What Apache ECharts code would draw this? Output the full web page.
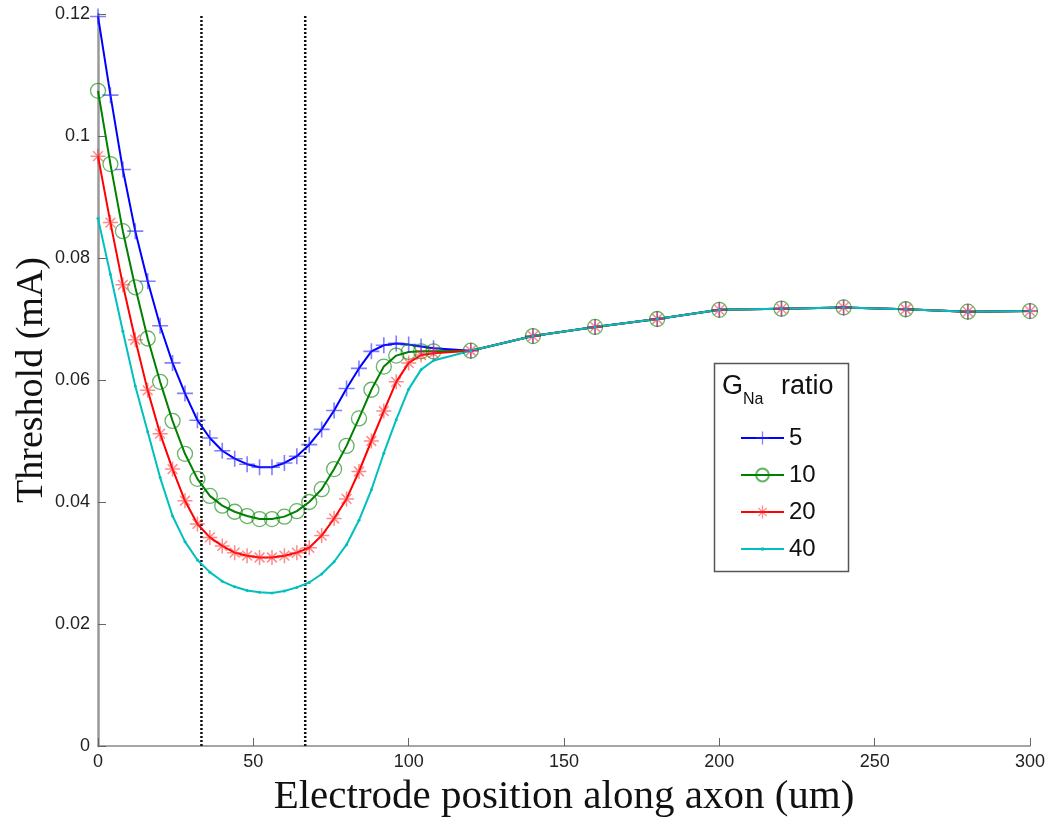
<!DOCTYPE html>
<html><head><meta charset="utf-8">
<script src="https://cdn.jsdelivr.net/npm/echarts@6/dist/echarts.min.js"></script>
<style>html,body{margin:0;padding:0;background:#fff}#c{width:1050px;height:828px}</style>
</head><body><div id="c"></div>
<script>
// electrode positions (um)
const positions = [0,4,8,12,16,20,24,28,32,36,40,44,48,52,56,60,64,68,72,76,80,84,88,92,96,100,104,108,120,140,160,180,200,220,240,260,280,300];
// thresholds (mA) per G_Na ratio
const ratio5  = [0.1196,0.1067,0.0945,0.0844,0.0762,0.0689,0.0628,0.0578,0.0534,0.0505,0.0484,0.0471,0.0462,0.0457,0.0457,0.0464,0.0475,0.0494,0.0519,0.0550,0.0586,0.0619,0.0647,0.0657,0.0660,0.0658,0.0655,0.0652,0.0648,0.0672,0.0687,0.0700,0.0715,0.0717,0.0719,0.0716,0.0712,0.0713];
const ratio10 = [0.1074,0.0954,0.0844,0.0752,0.0668,0.0597,0.0533,0.0479,0.0438,0.0410,0.0394,0.0384,0.0377,0.0372,0.0372,0.0376,0.0385,0.0400,0.0421,0.0454,0.0492,0.0537,0.0584,0.0622,0.0640,0.0646,0.0647,0.0647,0.0648,0.0672,0.0687,0.0700,0.0715,0.0717,0.0719,0.0716,0.0712,0.0713];
const ratio20 = [0.0967,0.0858,0.0756,0.0666,0.0583,0.0512,0.0454,0.0402,0.0364,0.0342,0.0328,0.0317,0.0312,0.0309,0.0309,0.0312,0.0317,0.0325,0.0345,0.0373,0.0405,0.0450,0.0500,0.0549,0.0597,0.0628,0.0641,0.0644,0.0648,0.0672,0.0687,0.0700,0.0715,0.0717,0.0719,0.0716,0.0712,0.0713];
const ratio40 = [0.0865,0.0773,0.0680,0.0590,0.0515,0.0440,0.0377,0.0335,0.0305,0.0285,0.0270,0.0261,0.0255,0.0252,0.0251,0.0254,0.0260,0.0268,0.0282,0.0302,0.0330,0.0370,0.0420,0.0480,0.0535,0.0585,0.0617,0.0632,0.0648,0.0672,0.0687,0.0700,0.0715,0.0717,0.0719,0.0716,0.0712,0.0713];
const seriesNames = ['5','10','20','40'];
const boundaries = [33.3, 66.7];

const PLUS = 'path://M-0.8,-8L0.8,-8L0.8,-0.8L8,-0.8L8,0.8L0.8,0.8L0.8,8L-0.8,8L-0.8,0.8L-8,0.8L-8,-0.8L-0.8,-0.8Z';
const STAR = PLUS +
  'M5.77,4.63L4.63,5.77L-5.77,-4.63L-4.63,-5.77Z' +
  'M4.63,-5.77L5.77,-4.63L-4.63,5.77L-5.77,4.63Z';
const DOT_LEGEND = 'path://M0,0L0.01,0L0.01,0.01Z M0,7.1L43,7.1L43,8.9L0,8.9Z M20,6.4L23,6.4L23,9.6L20,9.6Z M42.99,15.99L43,15.99L43,16Z';

function pairs(vals){ return positions.map((x,i)=>[x, vals[i]]); }

const chart = echarts.init(document.getElementById('c'), null, {renderer:'canvas'});
const sans = 'Liberation Sans, Arial, sans-serif';
const serif = 'Liberation Serif, Times New Roman, serif';

function lineSeries(name, vals, color, symbol, size, itemStyle){
  return {
    name, type:'line', data: pairs(vals), showAllSymbol:true,
    symbol, symbolSize:size,
    lineStyle:{color, width:2},
    itemStyle,
    emphasis:{disabled:true}, animation:false
  };
}

const series = [
  lineSeries(seriesNames[0], ratio5, '#0000ff', PLUS, 16, {color:'rgba(40,40,255,0.6)'}),
  lineSeries(seriesNames[1], ratio10, '#008000', 'circle', 15, {color:'rgba(0,128,0,0)', borderColor:'rgba(0,128,0,0.6)', borderWidth:1.3}),
  lineSeries(seriesNames[2], ratio20, '#ff0000', STAR, 15, {color:'rgba(255,40,40,0.55)'}),
  lineSeries(seriesNames[3], ratio40, '#00bfbf', 'circle', 3, {color:'#00bfbf'})
];
boundaries.forEach(b=>{
  series.push({
    type:'line', data:[[b,0],[b,0.12]], symbol:'none', silent:true, animation:false,
    lineStyle:{color:'#111', width:2.5, type:[2,2]}, z:1
  });
});

chart.setOption({
  animation:false,
  backgroundColor:'#fff',
  grid:{left:98, right:20, top:14, bottom:82, containLabel:false, outerBoundsMode:'none'},
  xAxis:{
    type:'value', min:0, max:300, interval:50,
    name:'Electrode position along axon (um)', nameLocation:'middle', nameGap:31,
    nameTextStyle:{fontFamily:serif, fontSize:41, color:'#111'},
    axisLine:{lineStyle:{color:'#888', width:1.5}},
    axisTick:{inside:true, length:8, lineStyle:{color:'#666'}},
    axisLabel:{fontFamily:sans, fontSize:18, color:'#222', margin:7},
    splitLine:{show:false}
  },
  yAxis:{
    type:'value', min:0, max:0.12, interval:0.02,
    name:'Threshold (mA)', nameLocation:'middle', nameGap:47, nameMoveOverlap:false,
    nameTextStyle:{fontFamily:serif, fontSize:38, color:'#111'},
    axisLine:{lineStyle:{color:'#999', width:2.5}},
    axisTick:{inside:true, length:8, lineStyle:{color:'#666'}},
    axisLabel:{fontFamily:sans, fontSize:18, color:'#222', margin:8},
    splitLine:{show:false}
  },
  legend:{
    data:[
      {name:seriesNames[0]},
      {name:seriesNames[1]},
      {name:seriesNames[2]},
      {name:seriesNames[3], icon:DOT_LEGEND}
    ],
    orient:'vertical', left:714, top:363,
    padding:[63,10,10,26], itemGap:13, itemWidth:43, itemHeight:16,
    selectedMode:false, z:5,
    textStyle:{fontFamily:sans, fontSize:24, color:'#111'}
  },
  graphic:[
    {type:'rect', z:3, shape:{x:714.5, y:363.5, width:134, height:208}, style:{fill:'#fff', stroke:'#555', lineWidth:1.5}},
    {type:'text', z:6, left:722, top:373, style:{text:'G', font:'27px '+sans, fill:'#111'}},
    {type:'text', z:6, left:743, top:392, style:{text:'Na', font:'16px '+sans, fill:'#111'}},
    {type:'text', z:6, left:781, top:373, style:{text:'ratio', font:'27px '+sans, fill:'#111'}}
  ],
  series
});
</script></body></html>
